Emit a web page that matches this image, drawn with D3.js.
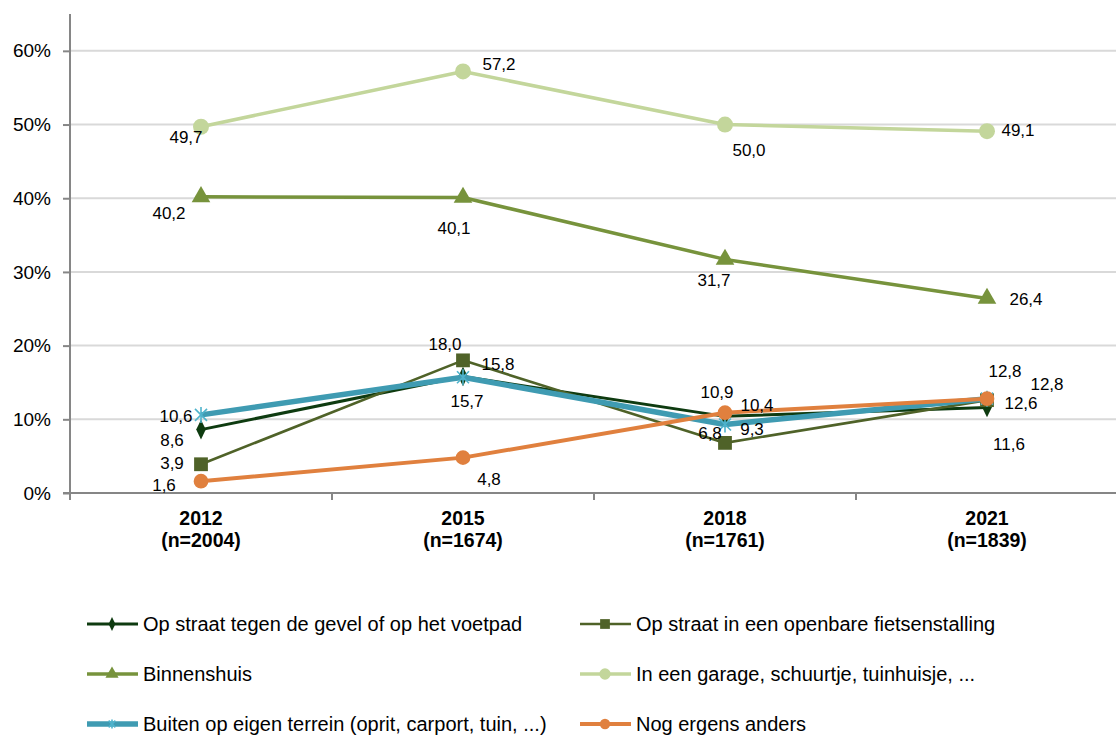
<!DOCTYPE html>
<html>
<head>
<meta charset="utf-8">
<script src="https://cdn.jsdelivr.net/npm/d3@7"></script>
<style>
  body { margin: 0; background: #fff; }
  svg { display: block; font-family: "Liberation Sans", Arial, sans-serif; }
</style>
</head>
<body>
<svg id="chart" width="1116" height="736"></svg>
<script>
// data
const years = ["2012", "2015", "2018", "2021"];
const sampleSizes = ["(n=2004)", "(n=1674)", "(n=1761)", "(n=1839)"];
const yTicks = [0, 10, 20, 30, 40, 50, 60];

const seriesNames = [
  "Op straat tegen de gevel of op het voetpad",
  "Op straat in een openbare fietsenstalling",
  "Binnenshuis",
  "In een garage, schuurtje, tuinhuisje, ...",
  "Buiten op eigen terrein (oprit, carport, tuin, ...)",
  "Nog ergens anders"
];
const gevelValues = [8.6, 15.8, 10.4, 11.6];
const fietsenstallingValues = [3.9, 18.0, 6.8, 12.6];
const binnenshuisValues = [40.2, 40.1, 31.7, 26.4];
const garageValues = [49.7, 57.2, 50.0, 49.1];
const eigenTerreinValues = [10.6, 15.7, 9.3, 12.8];
const andersValues = [1.6, 4.8, 10.9, 12.8];

// styles per series (same order as seriesNames); labels = label centre offset from point
const styles = [
  {color: "#0e3b10", width: 3,   marker: "diamond",  size: 110,
   labels: [[-29, 10], [35, -13], [32, -11], [22, 37]]},
  {color: "#4f6228", width: 2.6, marker: "square",   size: 190,
   labels: [[-29, -1], [-18, -16], [-15, -10], [34, 3]]},
  {color: "#77933c", width: 3.5, marker: "triangle", size: 150,
   labels: [[-32, 16], [-9, 31], [-11, 21], [39, 1]]},
  {color: "#c3d69b", width: 3.5, marker: "circle",   size: 200,
   labels: [[-15, 10], [36, -7], [24, 26], [31, -1]]},
  {color: "#3f9bb2", width: 5.5, marker: "asterisk", size: 16,
   labels: [[-25, 1], [4, 24], [27, 5], [18, -28]]},
  {color: "#e0803e", width: 4,   marker: "circle",   size: 170,
   labels: [[-37, 4], [26, 21], [-8, -21], [60, -15]]}
];
const allValues = [gevelValues, fietsenstallingValues, binnenshuisValues,
                   garageValues, eigenTerreinValues, andersValues];

const svg = d3.select("#chart");
const margin = {left: 70, right: -2, top: 14, plotBottom: 493};
const width = 1116 - margin.left - margin.right;

const x = d3.scaleBand().domain(years).range([margin.left, margin.left + width]);
const y = d3.scaleLinear().domain([0, 65]).range([margin.plotBottom, margin.top]);

// gridlines
svg.append("g").selectAll("line")
  .data(yTicks.filter(d => d > 0))
  .enter().append("line")
  .attr("x1", margin.left).attr("x2", 1116)
  .attr("y1", d => y(d)).attr("y2", d => y(d))
  .attr("stroke", "#d9d9d9").attr("stroke-width", 2);

// y axis
const yAxis = svg.append("g")
  .attr("transform", `translate(${margin.left},0)`)
  .call(d3.axisLeft(y).tickValues(yTicks).tickFormat(d => d + "%").tickSize(7).tickPadding(12));
yAxis.select(".domain").attr("stroke", "#868686").attr("stroke-width", 2).attr("d", `M-7,${y(0)}H0V${margin.top}`);
yAxis.selectAll(".tick line").attr("stroke", "#868686").attr("stroke-width", 2);
yAxis.selectAll(".tick text").style("font-size", "19px").attr("fill", "#000");

// x axis
const xAxis = svg.append("g")
  .attr("transform", `translate(0,${margin.plotBottom})`);
xAxis.append("line")
  .attr("x1", margin.left - 7).attr("x2", 1116)
  .attr("stroke", "#868686").attr("stroke-width", 2);
xAxis.selectAll(".xtick")
  .data(years)
  .enter().append("line")
  .attr("x1", d => x(d)).attr("x2", d => x(d))
  .attr("y1", 0).attr("y2", 7)
  .attr("stroke", "#868686").attr("stroke-width", 2);
const xLabels = xAxis.selectAll(".xlabel")
  .data(years)
  .enter().append("text")
  .attr("text-anchor", "middle")
  .style("font-size", "19.5px").style("font-weight", "bold");
xLabels.append("tspan")
  .attr("x", d => x(d) + x.bandwidth() / 2).attr("y", 32)
  .text(d => d);
xLabels.append("tspan")
  .attr("x", d => x(d) + x.bandwidth() / 2).attr("y", 54)
  .text((d, i) => sampleSizes[i]);

// marker helpers
function markerPath(type, size) {
  const map = {diamond: d3.symbolDiamond, square: d3.symbolSquare,
               triangle: d3.symbolTriangle, circle: d3.symbolCircle};
  return d3.symbol().type(map[type]).size(size)();
}
function drawMarker(g, st, cx, cy) {
  if (st.marker === "asterisk") {
    const r = st.size / 2;
    const m = g.append("g").attr("transform", `translate(${cx},${cy})`)
      .attr("stroke", "#4fb3cc").attr("stroke-width", 1.6);
    [[-r * 0.75, -r * 0.75, r * 0.75, r * 0.75], [-r * 0.75, r * 0.75, r * 0.75, -r * 0.75], [0, -r, 0, r]]
      .forEach(s => m.append("line").attr("x1", s[0]).attr("y1", s[1]).attr("x2", s[2]).attr("y2", s[3]));
  } else {
    g.append("path")
      .attr("d", markerPath(st.marker, st.size))
      .attr("transform", `translate(${cx},${cy})` + (st.marker === "diamond" ? " scale(0.85,1)" : ""))
      .attr("fill", st.color);
  }
}

// lines
const cx = d => x(d) + x.bandwidth() / 2;
const line = d3.line().x((d, i) => cx(years[i])).y(d => y(d));

const seriesG = svg.append("g");
allValues.forEach((vals, s) => {
  const st = styles[s];
  const g = seriesG.append("g");
  g.append("path").datum(vals)
    .attr("d", line)
    .attr("fill", "none")
    .attr("stroke", st.color)
    .attr("stroke-width", st.width)
    .attr("stroke-linejoin", "round");
  vals.forEach((v, i) => drawMarker(g, st, cx(years[i]), y(v)));
});

// data labels
const labelG = svg.append("g");
allValues.forEach((vals, s) => {
  const st = styles[s];
  vals.forEach((v, i) => {
    labelG.append("text")
      .attr("x", cx(years[i]) + st.labels[i][0])
      .attr("y", y(v) + st.labels[i][1])
      .attr("dy", "0.35em")
      .attr("text-anchor", "middle")
      .style("font-size", "17px")
      .attr("fill", "#000")
      .text(d3.format(".1f")(v).replace(".", ","));
  });
});

// legend
const legend = svg.append("g");
seriesNames.forEach((name, i) => {
  const st = styles[i];
  const col = i % 2, row = Math.floor(i / 2);
  const lx = col === 0 ? 87 : 580;
  const ly = 624 + row * 50;
  const g = legend.append("g");
  g.append("line")
    .attr("x1", lx).attr("x2", lx + 51)
    .attr("y1", ly).attr("y2", ly)
    .attr("stroke", st.color).attr("stroke-width", st.width);
  const small = Object.assign({}, st, {size: st.marker === "asterisk" ? 9 : st.size * 0.5});
  drawMarker(g, small, lx + 25, ly);
  g.append("text")
    .attr("x", lx + 56).attr("y", ly)
    .attr("dy", "0.35em")
    .style("font-size", "20px")
    .attr("fill", "#000")
    .text(name);
});
</script>
</body>
</html>
